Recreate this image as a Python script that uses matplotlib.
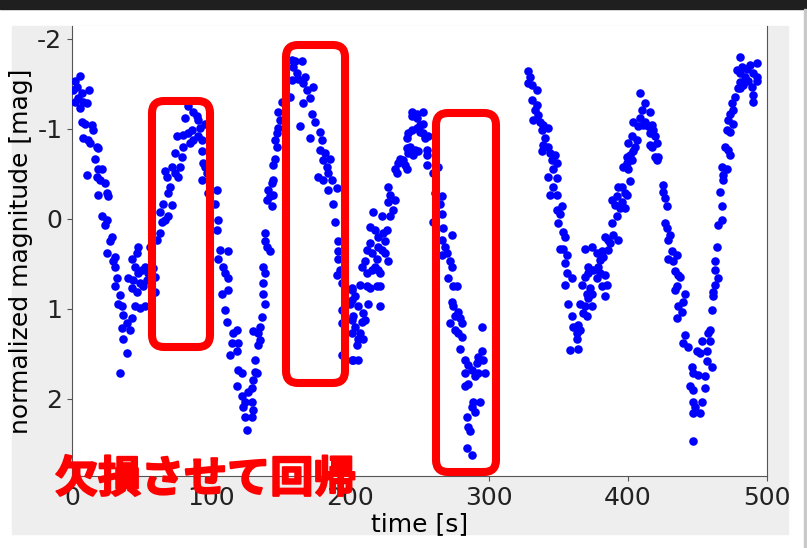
import numpy as np
import matplotlib
matplotlib.use('Agg')
import matplotlib.pyplot as plt
from matplotlib.patches import FancyBboxPatch, Rectangle
from matplotlib.transforms import IdentityTransform
import matplotlib.patheffects as pe

plt.rcParams['axes.unicode_minus'] = False

### light curve: (time [s], normalized magnitude [mag])
seg_0_100 = [
    (5.8, -1.59), (2.2, -1.53), (3.4, -1.47), (1.0, -1.43), (7.0, -1.40), (12.2, -1.43),
    (4.6, -1.34), (8.2, -1.30), (10.6, -1.29), (2.2, -1.30), (5.8, -1.23),
    (7.0, -1.08), (9.4, -1.06), (14.1, -1.04), (15.3, -0.99), (8.2, -0.90), (11.7, -0.88),
    (13.0, -0.84), (17.7, -0.80), (19.0, -0.79), (16.5, -0.67),
    (10.6, -0.49), (19.0, -0.56), (21.3, -0.55), (17.7, -0.47), (20.1, -0.43), (23.7, -0.40),
    (19.0, -0.27), (24.9, -0.29), (26.1, -0.25),
    (21.3, -0.03), (24.9, 0.01), (23.7, 0.07), (28.5, 0.20), (27.3, 0.25), (24.9, 0.38),
    (30.9, 0.42), (29.7, 0.47), (30.9, 0.53),
    (32.1, 0.66), (30.9, 0.75), (34.5, 0.84), (33.3, 0.94), (35.7, 0.97), (36.9, 1.07),
    (42.9, 1.10), (39.3, 1.16), (35.7, 1.21), (41.7, 1.23), (36.9, 1.33), (39.3, 1.49), (34.5, 1.71),
    (43.0, 0.45), (47.7, 0.31), (46.5, 0.38), (45.3, 0.53), (40.5, 0.66), (44.1, 0.68),
    (47.7, 0.60), (50.1, 0.57), (52.5, 0.53), (43.0, 0.77), (46.5, 0.81), (48.9, 0.71),
    (51.3, 0.75), (53.7, 0.68), (54.9, 0.60), (45.3, 0.97), (48.9, 0.99), (52.5, 0.97),
    (56.1, 0.31), (58.5, 0.55), (59.7, 0.64), (59.7, 0.81),
    (60.9, 0.23), (63.3, 0.16), (64.5, 0.03), (66.9, 0.01), (69.3, -0.03), (63.3, -0.08),
    (65.7, -0.17), (71.7, -0.16), (69.3, -0.29), (70.5, -0.36), (68.1, -0.47), (66.9, -0.53),
    (71.7, -0.58), (74.1, -0.51), (76.5, -0.47), (77.7, -0.58), (74.1, -0.73), (78.9, -0.69),
    (80.1, -0.80), (75.3, -0.92), (80.1, -0.93), (83.7, -0.95), (86.1, -0.99), (87.3, -0.88),
    (84.9, -0.84), (81.3, -1.12), (83.7, -1.25), (87.3, -1.19), (89.7, -1.14), (90.9, -1.10),
    (92.1, -1.01), (90.9, -0.92), (93.3, -0.88), (95.7, -1.06), (93.3, -0.75), (94.5, -0.62),
    (95.7, -0.58), (93.3, -0.43), (96.9, -0.51), (98.1, -0.29),
]

seg_100_200 = [
    (104.1, -0.32), (102.9, -0.17), (105.3, 0.01), (104.1, 0.12), (106.5, 0.34), (112.5, 0.36),
    (105.3, 0.45), (108.9, 0.53), (110.1, 0.60), (112.5, 0.66), (107.7, 0.83), (112.5, 0.79),
    (110.1, 1.01), (111.3, 1.14), (118.5, 1.23), (116.1, 1.27), (114.9, 1.38), (119.7, 1.38),
    (113.7, 1.51), (118.5, 1.47), (119.7, 1.68), (122.1, 1.71), (118.5, 1.86), (126.9, 1.92),
    (122.1, 1.97), (124.5, 2.03), (129.3, 2.03), (123.3, 2.09), (130.5, 2.12), (124.5, 2.20),
    (129.3, 2.20), (125.7, 2.34), (129.3, 1.88), (130.5, 1.79), (131.7, 1.70), (132.9, 1.71),
    (131.7, 1.57), (134.1, 1.40), (135.3, 1.34), (134.1, 1.27), (130.5, 1.25), (135.3, 1.20),
    (136.5, 1.09), (138.9, 0.94), (137.7, 0.83), (137.7, 0.71), (138.9, 0.60), (137.7, 0.53),
    (142.5, 0.36), (140.1, 0.31), (138.9, 0.25), (138.9, 0.16), (143.7, -0.14), (140.1, -0.21),
    (142.5, -0.25), (144.9, -0.27), (141.3, -0.32), (143.7, -0.40), (144.9, -0.43), (144.9, -0.60),
    (146.1, -0.67), (147.3, -0.80), (146.1, -0.88), (147.3, -0.95), (148.5, -1.01), (149.7, -1.10),
    (148.5, -1.19), (150.9, -1.30), (156.9, -1.36), (158.1, -1.77), (160.4, -1.75), (165.2, -1.75),
    (159.3, -1.69), (161.6, -1.62), (158.1, -1.54), (162.8, -1.56), (166.4, -1.51), (167.6, -1.58),
    (168.8, -1.43), (173.6, -1.47), (166.4, -1.29), (171.2, -1.34), (164.0, -1.03), (171.2, -0.90),
    (172.4, -1.17), (174.8, -1.08), (178.4, -0.97), (179.6, -0.88), (178.4, -0.77), (182.0, -0.73),
    (180.8, -0.66), (185.6, -0.67), (183.2, -0.58), (177.2, -0.47), (184.4, -0.51), (186.8, -0.43),
    (180.8, -0.43), (190.4, -0.34), (184.4, -0.32), (188.0, -0.17), (189.2, 0.03), (191.6, 0.25),
    (191.6, 0.36), (191.6, 0.45), (192.8, 0.57), (190.4, 0.62), (194.0, 0.71), (194.0, 1.01),
    (194.0, 1.16), (194.0, 1.51), (201.2, 0.79), (201.2, 0.90), (201.2, 1.12), (201.2, 1.27),
    (201.2, 1.57),
]

seg_200_300 = [
    (201.2, 0.77), (200.0, 0.94), (203.6, 0.86), (206.0, 0.97), (209.6, 1.05), (202.4, 1.08),
    (208.4, 1.14), (210.8, 1.12), (203.6, 1.20), (207.2, 1.27), (206.0, 1.33), (209.6, 1.33),
    (204.8, 1.40), (206.0, 1.57), (202.4, 1.57), (213.2, 0.94), (212.0, 0.75), (214.4, 0.77),
    (219.2, 0.75), (221.6, 0.75), (221.6, 0.97), (207.2, 0.73), (208.4, 0.53), (210.8, 0.47),
    (212.0, 0.60), (215.6, 0.57), (218.0, 0.53), (220.4, 0.57), (221.6, 0.60), (212.0, 0.34),
    (214.4, 0.27), (215.6, 0.38), (219.2, 0.44), (220.4, 0.31), (222.8, 0.34), (225.2, 0.38),
    (227.6, 0.47), (214.4, 0.09), (218.0, 0.12), (220.4, 0.20), (224.0, 0.16), (226.4, 0.12),
    (225.2, 0.25), (222.8, -0.03), (216.8, -0.08), (228.8, -0.03), (231.2, -0.10), (227.6, -0.19),
    (232.4, -0.21), (228.8, -0.27), (227.6, -0.36), (233.6, -0.51), (232.4, -0.56), (234.8, -0.62),
    (236.0, -0.67), (238.4, -0.66), (239.6, -0.60), (240.8, -0.56), (242.0, -0.73), (245.6, -0.71),
    (240.8, -0.79), (243.2, -0.80), (246.8, -0.77), (249.2, -0.75), (240.8, -0.90), (242.0, -0.95),
    (244.4, -0.99), (248.0, -1.01), (250.4, -0.97), (252.8, -0.95), (244.4, -1.14), (248.0, -1.12),
    (250.4, -1.04), (252.8, -1.06), (244.4, -1.19), (248.0, -1.17), (252.8, -1.19), (254.0, -0.90),
    (255.2, -0.77), (255.2, -0.71), (255.2, -0.60), (256.4, -0.92), (259.9, -0.51), (263.5, -0.58),
    (261.1, -0.29), (265.9, -0.25), (264.7, -0.17), (265.9, -0.06), (259.9, 0.03), (267.1, 0.10),
    (273.1, 0.18), (265.9, 0.23), (268.3, 0.31), (265.9, 0.40), (269.5, 0.38), (271.9, 0.47),
    (273.1, 0.53), (270.7, 0.66), (274.3, 0.75), (276.7, 0.75), (273.1, 0.92), (274.3, 0.97),
    (277.9, 1.03), (275.5, 1.08), (279.1, 1.10), (271.9, 1.16), (280.3, 1.16), (275.5, 1.23),
    (277.9, 1.27), (280.3, 1.31), (279.1, 1.44), (294.7, 1.20), (294.7, 1.47), (292.3, 1.53),
    (295.9, 1.57), (282.7, 1.57), (285.1, 1.62), (291.1, 1.60), (287.5, 1.68), (282.7, 1.71),
    (292.3, 1.71), (289.9, 1.75), (285.1, 1.83), (282.7, 1.86), (293.5, 2.03), (288.8, 2.03),
    (287.5, 2.09), (289.9, 2.14), (283.9, 2.20), (285.1, 2.31), (286.3, 2.36), (283.9, 2.55),
    (287.5, 2.62), (297.1, 1.71),
]

seg_330_400 = [
    (328.3, -1.64), (329.5, -1.58), (328.3, -1.51), (330.7, -1.49), (334.3, -1.43), (330.7, -1.32),
    (334.3, -1.27), (333.1, -1.21), (335.5, -1.16), (331.9, -1.10), (336.7, -1.08), (339.1, -1.04),
    (342.7, -1.01), (337.9, -0.99), (340.3, -0.90), (339.1, -0.82), (342.7, -0.80), (337.9, -0.75),
    (343.9, -0.73), (347.5, -0.71), (345.1, -0.66), (348.7, -0.62), (346.3, -0.56), (342.7, -0.47),
    (348.7, -0.45), (346.3, -0.36), (343.9, -0.27), (348.7, -0.27), (352.3, -0.14), (348.7, -0.10),
    (351.1, -0.05), (349.9, 0.05), (353.5, 0.14), (354.7, 0.20), (351.1, 0.33), (353.5, 0.33),
    (355.9, 0.40), (354.7, 0.49), (355.9, 0.60), (359.5, 0.66), (354.7, 0.73), (357.1, 0.95),
    (359.5, 1.08), (360.7, 1.20), (364.3, 1.18), (363.1, 1.27), (365.5, 1.23), (363.1, 1.33),
    (358.3, 1.46), (364.3, 1.44), (366.7, 0.73), (365.5, 0.95), (369.0, 0.97), (367.9, 1.05),
    (370.2, 1.08), (373.8, 0.97), (371.4, 0.88), (370.2, 0.83), (373.8, 0.83), (372.6, 0.77),
    (369.0, 0.64), (371.4, 0.60), (375.0, 0.57), (371.4, 0.53), (377.4, 0.66), (379.8, 0.60),
    (381.0, 0.75), (383.5, 0.62), (384.7, 0.73), (383.5, 0.86), (378.6, 0.53), (379.8, 0.46),
    (382.2, 0.42), (377.4, 0.38), (373.8, 0.31), (369.0, 0.33), (381.0, 0.36), (385.8, 0.34),
    (387.0, 0.27), (383.5, 0.20), (389.4, 0.18), (393.0, 0.23), (385.8, 0.23), (388.2, 0.05),
    (391.8, -0.03), (394.2, -0.12), (390.6, -0.16), (388.2, -0.21), (391.8, -0.25), (395.4, -0.19),
    (397.8, -0.29), (393.0, -0.36), (395.4, -0.36),
]

seg_400_500 = [
    (401.4, -0.42), (396.6, -0.58), (400.2, -0.56), (399.0, -0.62), (401.4, -0.71), (400.2, -0.84),
    (402.6, -0.92), (403.8, -1.08), (397.8, -0.12), (399.0, -0.27), (402.6, -0.66), (399.0, -0.69),
    (403.8, -0.75), (405.0, -0.80), (406.2, -0.88), (407.4, -1.03), (411.0, -1.04), (408.6, -1.12),
    (412.2, -1.08), (409.8, -1.21), (415.8, -1.19), (412.2, -1.29), (408.6, -1.40), (414.6, -1.03),
    (417.0, -1.04), (418.2, -0.99), (415.8, -0.95), (419.4, -0.92), (420.6, -0.84), (415.8, -0.82),
    (417.0, -0.80), (419.4, -0.69), (421.8, -0.69), (420.6, -0.66), (425.4, -0.38), (425.4, -0.30),
    (426.6, -0.23), (427.8, -0.14), (426.6, 0.05), (427.8, 0.10), (430.2, 0.18), (429.0, 0.23),
    (431.4, 0.36), (435.0, 0.40), (429.0, 0.45), (432.6, 0.47), (433.8, 0.58), (436.2, 0.62),
    (437.4, 0.64), (435.0, 0.75), (433.8, 0.79), (441.0, 0.83), (439.8, 0.92), (436.2, 0.97),
    (438.6, 1.03), (435.0, 1.10), (441.0, 1.29), (439.8, 1.38), (443.4, 1.42), (449.4, 1.47),
    (451.8, 1.49), (445.8, 1.64), (447.0, 1.71), (450.6, 1.73), (455.4, 1.75), (444.6, 1.86),
    (447.0, 1.90), (455.4, 1.88), (447.0, 2.03), (453.0, 2.03), (448.2, 2.09), (447.0, 2.16),
    (451.8, 2.16), (447.0, 2.47), (456.6, 1.58), (460.2, 1.64), (456.6, 1.47), (453.0, 1.36),
    (458.9, 1.36), (457.8, 1.27), (458.9, 1.23), (460.2, 1.01), (461.4, 0.86), (461.4, 0.81),
    (462.6, 0.73), (465.0, 0.66), (462.6, 0.57), (462.6, 0.47), (463.8, 0.31), (465.0, 0.07),
    (467.3, 0.01), (467.3, -0.14), (466.1, -0.30), (468.5, -0.43), (468.5, -0.49), (467.3, -0.58),
    (471.0, -0.56), (473.3, -0.71), (469.7, -0.80), (472.2, -0.77), (471.0, -0.99), (473.3, -0.97),
    (475.8, -1.06), (472.2, -1.10), (473.3, -1.17), (475.8, -1.21), (474.6, -1.29), (476.9, -1.36),
    (479.3, -1.45), (480.5, -1.52), (480.5, -1.62), (478.1, -1.66), (481.7, -1.69), (480.5, -1.80),
    (485.3, -1.67), (487.7, -1.71), (492.5, -1.73), (490.1, -1.62), (492.5, -1.58), (484.1, -1.58),
    (486.5, -1.53), (492.5, -1.53), (483.0, -1.49), (489.0, -1.47), (480.5, -1.45), (490.1, -1.38),
    (490.1, -1.30),
]

x_ticks = [0, 100, 200, 300, 400, 500]
y_ticks = [-2, -1, 0, 1, 2]
note_text = '欠損させて回帰'

##############################################################################
W, H = 807, 548
fig = plt.figure(figsize=(W / 100.0, H / 100.0), dpi=100, facecolor='white')

def frac(x0, y0, x1, y1):
    # screenshot pixel box (top-left origin) -> figure fraction rect
    return (x0 / W, 1 - y1 / H, (x1 - x0) / W, (y1 - y0) / H)

### screenshot frame: dark strip on top, grey figure panel
l, b, w, h = frac(0, 0, W, 9)
fig.patches.append(Rectangle((l, b), w, h, transform=fig.transFigure, color='#1f1f1f', zorder=-2))
l, b, w, h = frac(12, 26, 788, 534)
fig.patches.append(Rectangle((l, b), w, h, transform=fig.transFigure, color='#eeeeee', zorder=-2))
l, b, w, h = frac(804, 9, 806, H)
fig.patches.append(Rectangle((l, b), w, h, transform=fig.transFigure, color='#c8c8c8', zorder=-2))

ax = fig.add_axes(frac(72, 26, 767, 476))
data = np.array(seg_0_100 + seg_100_200 + seg_200_300 + seg_330_400 + seg_400_500)
ax.scatter(data[:, 0], data[:, 1], s=38, color='#0000ff', linewidths=0, zorder=3)

ax.set_xlim(0, 500)
ax.set_ylim(2.856, -2.144)
ax.set_xticks(x_ticks)
ax.set_yticks(y_ticks)
ax.set_xticklabels([str(v) for v in x_ticks], fontsize=18)
ax.set_yticklabels([str(v) for v in y_ticks], fontsize=18)
ax.set_xlabel('time [s]', fontsize=18, labelpad=2)
ax.set_ylabel('normalized magnitude [mag]', fontsize=18, labelpad=3)
ax.spines['top'].set_visible(False)
for s in ['left', 'right', 'bottom']:
    ax.spines[s].set_color('#555555')
ax.tick_params(colors='#555555', labelcolor='#222222')

### red annotation boxes drawn over the screenshot (pixel coords, bottom origin)
for x0, y0, x1, y1 in [(152, 101, 210, 347), (286, 45, 345, 383), (436, 113, 496, 472)]:
    box = FancyBboxPatch((x0, H - y1), x1 - x0, y1 - y0,
                         boxstyle='round,pad=0,rounding_size=12',
                         transform=IdentityTransform(), fill=False,
                         edgecolor='#ff0000', linewidth=5.8, zorder=10)
    fig.add_artist(box)

fig.text(55 / W, 1 - 479 / H, note_text, family=['Noto Sans CJK JP', 'DejaVu Sans'],
         fontsize=31, fontweight='bold', color='#ff0000', ha='left', va='center',
         zorder=11, path_effects=[pe.withStroke(linewidth=1.5, foreground='#ff0000')])

plt.savefig('out.png', dpi=100, facecolor=fig.get_facecolor())
